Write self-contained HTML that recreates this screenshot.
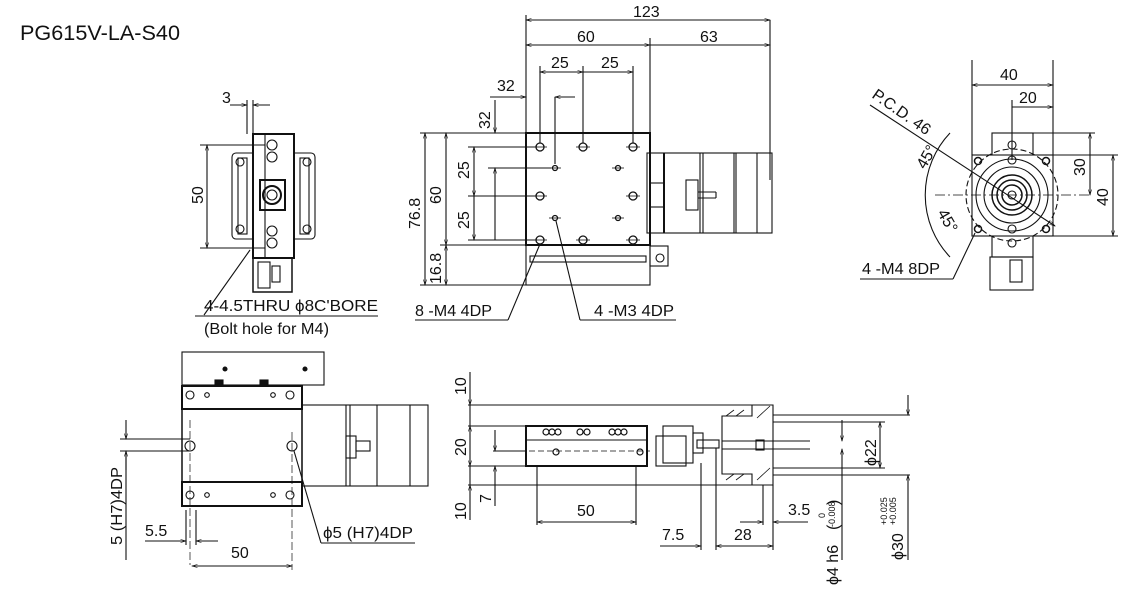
<!DOCTYPE html>
<html><head><meta charset="utf-8"><style>
html,body{margin:0;padding:0;background:#fff;}
svg{display:block;}
text{font-family:"Liberation Sans",sans-serif;fill:#111;}
</style></head><body>
<svg width="1128" height="612" viewBox="0 0 1128 612" xmlns="http://www.w3.org/2000/svg">
<defs>
<marker id="a" viewBox="0 0 10 10" refX="10" refY="5" markerWidth="9" markerHeight="5" orient="auto-start-reverse"><path d="M0,2 L10,5 L0,8" fill="none" stroke="#111" stroke-width="1"/></marker>
</defs>
<g stroke="#111" fill="none" stroke-width="1.1">
<text x="20" y="40" font-size="21" stroke="none" textLength="160" lengthAdjust="spacingAndGlyphs">PG615V-LA-S40</text>

<!-- FRONT VIEW (top-left) -->
<rect x="232" y="153" width="83" height="86" rx="4"/>
<rect x="238" y="158" width="9" height="76"/><rect x="300" y="158" width="9" height="76"/>
<circle cx="240" cy="162" r="4"/><circle cx="307" cy="162" r="4"/><circle cx="240" cy="229" r="4"/><circle cx="307" cy="229" r="4"/>
<rect x="253" y="134" width="41" height="124" fill="#fff" stroke-width="2"/>
<line x1="265" y1="134" x2="265" y2="258"/>
<rect x="260" y="180" width="25" height="30" stroke-width="2"/>
<circle cx="272" cy="195" r="9" stroke-width="2"/><circle cx="272" cy="195" r="5"/>
<circle cx="272" cy="145" r="5"/><circle cx="272" cy="157" r="5"/><circle cx="272" cy="231" r="5"/><circle cx="272" cy="243" r="5"/>
<rect x="253" y="258" width="39" height="34" stroke-width="1.5"/>
<rect x="258" y="262" width="12" height="26"/><rect x="272" y="266" width="8" height="16"/>
<line x1="247" y1="134" x2="247" y2="100"/><line x1="253" y1="134" x2="253" y2="100"/>
<line x1="230" y1="105" x2="247" y2="105" marker-end="url(#a)"/><line x1="270" y1="105" x2="253" y2="105" marker-end="url(#a)"/>
<text x="222" y="103" font-size="16" stroke="none">3</text>
<line x1="200" y1="145" x2="265" y2="145"/><line x1="200" y1="248" x2="265" y2="248"/>
<line x1="207" y1="145" x2="207" y2="248" marker-start="url(#a)" marker-end="url(#a)"/>
<text transform="translate(203,204) rotate(-90)" font-size="16" stroke="none">50</text>
<polyline points="204,315 250,250"/>
<line x1="195" y1="316" x2="378" y2="316"/>
<text x="204" y="311" font-size="16" stroke="none" textLength="174" lengthAdjust="spacingAndGlyphs">4-4.5THRU ϕ8C'BORE</text>
<text x="204" y="334" font-size="16" stroke="none" textLength="125" lengthAdjust="spacingAndGlyphs">(Bolt hole for M4)</text>

<!-- TOP VIEW -->
<rect x="526" y="133" width="124" height="112" stroke-width="2"/>
<rect x="526" y="245" width="124" height="40"/>
<rect x="530" y="256" width="116" height="6"/>
<rect x="650" y="246" width="18" height="20"/>
<circle cx="660" cy="258" r="4"/>
<rect x="647" y="153" width="125" height="80"/>
<line x1="664" y1="153" x2="664" y2="233" stroke-width="2"/>
<line x1="700" y1="153" x2="700" y2="233"/><line x1="703" y1="153" x2="703" y2="233"/>
<line x1="734" y1="153" x2="734" y2="233"/><line x1="736" y1="153" x2="736" y2="233"/>
<line x1="757" y1="153" x2="757" y2="233"/>
<rect x="650" y="183" width="14" height="24"/><rect x="686" y="180" width="12" height="30"/>
<line x1="698" y1="192" x2="716" y2="192"/><line x1="698" y1="198" x2="716" y2="198"/><line x1="716" y1="192" x2="716" y2="198"/>
<line x1="770" y1="20" x2="770" y2="180"/>
<g stroke-width="1.3">
<circle cx="540" cy="147" r="4"/><circle cx="583" cy="147" r="4"/><circle cx="633" cy="147" r="4"/>
<circle cx="540" cy="196" r="4"/><circle cx="633" cy="196" r="4"/>
<circle cx="540" cy="240" r="4"/><circle cx="583" cy="240" r="4"/><circle cx="633" cy="240" r="4"/>
<circle cx="555" cy="168" r="2.5"/><circle cx="618" cy="168" r="2.5"/><circle cx="555" cy="218" r="2.5"/><circle cx="618" cy="218" r="2.5"/>
</g>
<g stroke-width="0.8">
<line x1="533" y1="147" x2="547" y2="147"/><line x1="576" y1="147" x2="590" y2="147"/><line x1="626" y1="147" x2="640" y2="147"/>
<line x1="533" y1="196" x2="547" y2="196"/><line x1="626" y1="196" x2="640" y2="196"/>
<line x1="533" y1="240" x2="547" y2="240"/><line x1="576" y1="240" x2="590" y2="240"/><line x1="626" y1="240" x2="640" y2="240"/>
<line x1="549" y1="168" x2="561" y2="168"/><line x1="612" y1="168" x2="624" y2="168"/><line x1="549" y1="218" x2="561" y2="218"/><line x1="612" y1="218" x2="624" y2="218"/>
</g>
<line x1="526" y1="15" x2="526" y2="133"/><line x1="650" y1="38" x2="650" y2="150"/>
<line x1="540" y1="66" x2="540" y2="143"/><line x1="583" y1="66" x2="583" y2="143"/><line x1="633" y1="66" x2="633" y2="143"/>
<line x1="555" y1="97" x2="555" y2="164"/>
<line x1="526" y1="20" x2="770" y2="20" marker-start="url(#a)" marker-end="url(#a)"/>
<text x="633" y="17" font-size="16" stroke="none">123</text>
<line x1="526" y1="45" x2="650" y2="45" marker-start="url(#a)" marker-end="url(#a)"/>
<line x1="650" y1="45" x2="770" y2="45" marker-end="url(#a)"/>
<text x="577" y="42" font-size="16" stroke="none">60</text><text x="700" y="42" font-size="16" stroke="none">63</text>
<line x1="540" y1="72" x2="583" y2="72" marker-start="url(#a)" marker-end="url(#a)"/>
<line x1="583" y1="72" x2="633" y2="72" marker-end="url(#a)"/>
<text x="551" y="68" font-size="16" stroke="none">25</text><text x="601" y="68" font-size="16" stroke="none">25</text>
<line x1="490" y1="97" x2="526" y2="97" marker-end="url(#a)"/><line x1="575" y1="97" x2="555" y2="97" marker-end="url(#a)"/>
<text x="497" y="91" font-size="16" stroke="none">32</text>
<line x1="420" y1="133" x2="526" y2="133"/><line x1="420" y1="285" x2="526" y2="285"/>
<line x1="440" y1="245" x2="526" y2="245"/>
<line x1="468" y1="147" x2="536" y2="147"/><line x1="468" y1="196" x2="536" y2="196"/><line x1="468" y1="240" x2="536" y2="240"/>
<line x1="488" y1="168" x2="551" y2="168"/>
<line x1="425" y1="133" x2="425" y2="285" marker-start="url(#a)" marker-end="url(#a)"/>
<text transform="translate(420,229) rotate(-90)" font-size="16" stroke="none">76.8</text>
<line x1="446" y1="133" x2="446" y2="245" marker-start="url(#a)" marker-end="url(#a)"/>
<text transform="translate(441,204) rotate(-90)" font-size="16" stroke="none">60</text>
<line x1="446" y1="245" x2="446" y2="285" marker-start="url(#a)" marker-end="url(#a)"/>
<text transform="translate(441,284) rotate(-90)" font-size="16" stroke="none">16.8</text>
<line x1="474" y1="147" x2="474" y2="196" marker-start="url(#a)" marker-end="url(#a)"/>
<line x1="474" y1="196" x2="474" y2="240" marker-end="url(#a)"/>
<text transform="translate(469,179) rotate(-90)" font-size="16" stroke="none">25</text>
<text transform="translate(469,229) rotate(-90)" font-size="16" stroke="none">25</text>
<line x1="495" y1="100" x2="495" y2="133" marker-end="url(#a)"/><line x1="495" y1="240" x2="495" y2="168" marker-end="url(#a)"/>
<text transform="translate(490,129) rotate(-90)" font-size="16" stroke="none">32</text>
<line x1="508" y1="320" x2="540" y2="244"/><line x1="415" y1="320" x2="508" y2="320"/>
<text x="415" y="316" font-size="16" stroke="none" textLength="77" lengthAdjust="spacingAndGlyphs">8 -M4 4DP</text>
<line x1="580" y1="320" x2="556" y2="221"/><line x1="580" y1="320" x2="676" y2="320"/>
<text x="594" y="316" font-size="16" stroke="none" textLength="80" lengthAdjust="spacingAndGlyphs">4 -M3 4DP</text>

<!-- RIGHT VIEW -->
<rect x="992" y="133" width="41" height="124"/>
<rect x="972" y="155" width="81" height="81" fill="#fff"/>
<circle cx="1012" cy="195" r="46" stroke-dasharray="6,3"/>
<circle cx="1012" cy="195" r="36"/><circle cx="1012" cy="195" r="28"/>
<circle cx="1012" cy="195" r="20" stroke-width="1.5"/><circle cx="1012" cy="195" r="15" stroke-width="1.5"/><circle cx="1012" cy="195" r="10" stroke-width="1.5"/><circle cx="1012" cy="195" r="4"/>
<circle cx="978" cy="161" r="3.5" stroke-width="1.5"/><circle cx="1046" cy="161" r="3.5" stroke-width="1.5"/><circle cx="978" cy="229" r="3.5" stroke-width="1.5"/><circle cx="1046" cy="229" r="3.5" stroke-width="1.5"/>
<circle cx="1012" cy="160" r="4"/><circle cx="1012" cy="145" r="4"/><circle cx="1012" cy="229" r="4"/><circle cx="1012" cy="243" r="4"/>
<rect x="990" y="257" width="43" height="33"/><rect x="1010" y="260" width="12" height="22"/>
<line x1="935" y1="195" x2="1090" y2="195" stroke-dasharray="10,3,2,3" stroke-width="0.7"/>
<line x1="972" y1="60" x2="972" y2="155"/><line x1="1053" y1="60" x2="1053" y2="155"/>
<line x1="1012" y1="100" x2="1012" y2="160"/>
<line x1="972" y1="85" x2="1053" y2="85" marker-start="url(#a)" marker-end="url(#a)"/>
<text x="1000" y="80" font-size="16" stroke="none">40</text>
<line x1="1012" y1="107" x2="1053" y2="107" marker-end="url(#a)"/>
<text x="1019" y="103" font-size="16" stroke="none">20</text>
<line x1="1030" y1="133" x2="1095" y2="133"/><line x1="1053" y1="155" x2="1118" y2="155"/><line x1="1053" y1="236" x2="1118" y2="236"/>
<line x1="1090" y1="133" x2="1090" y2="195" marker-start="url(#a)" marker-end="url(#a)"/>
<text transform="translate(1085,176) rotate(-90)" font-size="16" stroke="none">30</text>
<line x1="1113" y1="155" x2="1113" y2="236" marker-start="url(#a)" marker-end="url(#a)"/>
<text transform="translate(1108,206) rotate(-90)" font-size="16" stroke="none">40</text>
<line x1="870" y1="105" x2="1055" y2="226" marker-end="url(#a)"/>
<text transform="translate(871,97) rotate(35)" font-size="16" stroke="none">P.C.D. 46</text>
<path d="M950,133 A90,90 0 0 0 950,257" />
<text transform="translate(925,170) rotate(-60)" font-size="16" stroke="none">45°</text>
<text transform="translate(937,213) rotate(60)" font-size="16" stroke="none">45°</text>
<line x1="953" y1="279" x2="975" y2="233"/><line x1="860" y1="279" x2="953" y2="279"/>
<text x="862" y="274" font-size="16" stroke="none" textLength="78" lengthAdjust="spacingAndGlyphs">4 -M4 8DP</text>

<!-- BOTTOM-LEFT VIEW -->
<rect x="182" y="352" width="142" height="33"/>
<rect x="182" y="386" width="120" height="120" stroke-width="1.5"/>
<rect x="182" y="386" width="120" height="23" stroke-width="2"/>
<rect x="182" y="482" width="120" height="24" stroke-width="2"/>
<rect x="215" y="380" width="8" height="6" fill="#111"/><rect x="260" y="380" width="8" height="6" fill="#111"/>
<circle cx="225" cy="369" r="2" fill="#111"/><circle cx="305" cy="369" r="2" fill="#111"/>
<circle cx="190" cy="395" r="4"/><circle cx="207" cy="395" r="2.3"/><circle cx="273" cy="395" r="2.3"/><circle cx="290" cy="395" r="4"/>
<circle cx="190" cy="495" r="4"/><circle cx="207" cy="495" r="2.3"/><circle cx="273" cy="495" r="2.3"/><circle cx="290" cy="495" r="4"/>
<circle cx="190" cy="446" r="5"/><circle cx="292" cy="446" r="5"/>
<rect x="302" y="405" width="126" height="81"/>
<line x1="346" y1="405" x2="346" y2="486"/><line x1="350" y1="405" x2="350" y2="486"/><line x1="377" y1="405" x2="377" y2="486"/><line x1="410" y1="405" x2="410" y2="486"/>
<rect x="346" y="436" width="10" height="22"/><rect x="356" y="441" width="14" height="10"/>
<line x1="190" y1="420" x2="190" y2="565" stroke-dasharray="8,3" stroke-width="0.7"/>
<line x1="292" y1="432" x2="292" y2="570" stroke-dasharray="8,3" stroke-width="0.7"/>
<line x1="120" y1="439" x2="190" y2="439"/><line x1="120" y1="451" x2="190" y2="451"/>
<line x1="126" y1="420" x2="126" y2="439" marker-end="url(#a)"/><line x1="126" y1="470" x2="126" y2="451" marker-end="url(#a)"/>
<line x1="126" y1="451" x2="126" y2="560"/>
<text transform="translate(122,545) rotate(-90)" font-size="16" stroke="none" textLength="78" lengthAdjust="spacingAndGlyphs">5 (H7)4DP</text>
<line x1="186" y1="510" x2="186" y2="545"/><line x1="196" y1="510" x2="196" y2="545"/>
<line x1="145" y1="541" x2="186" y2="541" marker-end="url(#a)"/><line x1="218" y1="541" x2="196" y2="541" marker-end="url(#a)"/>
<text x="145" y="536" font-size="16" stroke="none">5.5</text>
<line x1="192" y1="566" x2="292" y2="566" marker-start="url(#a)" marker-end="url(#a)"/>
<text x="231" y="558" font-size="16" stroke="none">50</text>
<line x1="321" y1="543" x2="294" y2="451"/><line x1="321" y1="543" x2="415" y2="543"/>
<text x="323" y="538" font-size="16" stroke="none" textLength="90" lengthAdjust="spacingAndGlyphs">ϕ5 (H7)4DP</text>

<!-- SIDE VIEW -->
<rect x="526" y="426" width="121" height="40" stroke-width="2"/>
<line x1="526" y1="440" x2="647" y2="440"/>
<g stroke-width="1.2">
<circle cx="546" cy="432" r="3"/><circle cx="552" cy="432" r="3"/><circle cx="558" cy="432" r="3"/>
<circle cx="580" cy="432" r="3"/><circle cx="587" cy="432" r="3"/>
<circle cx="612" cy="432" r="3"/><circle cx="618" cy="432" r="3"/><circle cx="624" cy="432" r="3"/>
<circle cx="556" cy="452" r="3"/><circle cx="640" cy="452" r="3"/>
</g>
<line x1="520" y1="451" x2="650" y2="451" stroke-dasharray="6,3" stroke-width="0.7"/>
<rect x="663" y="426" width="30" height="37"/><rect x="656" y="436" width="30" height="30"/>
<rect x="693" y="433" width="10" height="20"/>
<rect x="697" y="440" width="22" height="8"/>
<path d="M722,416 H752 V405 H773 V485 H752 V474 H722 Z"/>
<path d="M726,416 L734,410 M736,416 L744,410 M757,418 L770,406 M757,480 L770,468 M726,480 L734,474 M736,480 L744,474" stroke-width="0.8"/>
<rect x="756" y="440" width="8" height="10"/>
<line x1="722" y1="441" x2="810" y2="441"/><line x1="722" y1="449" x2="810" y2="449"/>
<line x1="468" y1="405" x2="760" y2="405"/><line x1="468" y1="485" x2="760" y2="485"/>
<line x1="468" y1="426" x2="526" y2="426"/><line x1="468" y1="466" x2="526" y2="466"/>
<line x1="470" y1="372" x2="470" y2="405" marker-end="url(#a)"/>
<line x1="470" y1="426" x2="470" y2="466" marker-start="url(#a)" marker-end="url(#a)"/>
<line x1="470" y1="520" x2="470" y2="485" marker-end="url(#a)"/>
<line x1="470" y1="405" x2="470" y2="426"/><line x1="470" y1="466" x2="470" y2="485"/>
<text transform="translate(466,395) rotate(-90)" font-size="16" stroke="none">10</text>
<text transform="translate(466,456) rotate(-90)" font-size="16" stroke="none">20</text>
<text transform="translate(466,520) rotate(-90)" font-size="16" stroke="none">10</text>
<line x1="493" y1="451" x2="526" y2="451"/>
<line x1="495" y1="430" x2="495" y2="451" marker-end="url(#a)"/><line x1="495" y1="506" x2="495" y2="466" marker-end="url(#a)"/>
<text transform="translate(491,503) rotate(-90)" font-size="16" stroke="none">7</text>
<line x1="537" y1="466" x2="537" y2="525"/><line x1="636" y1="466" x2="636" y2="525"/>
<line x1="537" y1="522" x2="636" y2="522" marker-start="url(#a)" marker-end="url(#a)"/>
<text x="577" y="516" font-size="16" stroke="none">50</text>
<line x1="701" y1="463" x2="701" y2="550"/><line x1="716" y1="448" x2="716" y2="550"/>
<line x1="773" y1="485" x2="773" y2="550"/><line x1="763" y1="485" x2="763" y2="525"/>
<line x1="660" y1="546" x2="701" y2="546" marker-end="url(#a)"/>
<line x1="716" y1="546" x2="773" y2="546" marker-start="url(#a)" marker-end="url(#a)"/>
<text x="662" y="540" font-size="16" stroke="none">7.5</text><text x="734" y="540" font-size="16" stroke="none">28</text>
<line x1="740" y1="522" x2="763" y2="522" marker-end="url(#a)"/><line x1="808" y1="522" x2="773" y2="522" marker-end="url(#a)"/>
<text x="788" y="515" font-size="16" stroke="none">3.5</text>
<line x1="773" y1="422" x2="885" y2="422"/><line x1="773" y1="468" x2="885" y2="468"/>
<line x1="880" y1="422" x2="880" y2="468" marker-start="url(#a)" marker-end="url(#a)"/>
<text transform="translate(876,466) rotate(-90)" font-size="16" stroke="none">ϕ22</text>
<line x1="773" y1="415" x2="910" y2="415"/><line x1="773" y1="475" x2="910" y2="475"/>
<line x1="908" y1="395" x2="908" y2="415" marker-end="url(#a)"/><line x1="908" y1="560" x2="908" y2="475" marker-end="url(#a)"/>
<text transform="translate(903,560) rotate(-90)" font-size="16" stroke="none">ϕ30</text>
<text transform="translate(887,525) rotate(-90)" font-size="9" stroke="none">+0.025</text>
<text transform="translate(896,525) rotate(-90)" font-size="9" stroke="none">+0.005</text>
<line x1="842" y1="420" x2="842" y2="441" marker-end="url(#a)"/><line x1="842" y1="560" x2="842" y2="449" marker-end="url(#a)"/>
<text transform="translate(838,585) rotate(-90)" font-size="16" stroke="none">ϕ4 h6</text>
<text transform="translate(838,530) rotate(-90)" font-size="16" stroke="none">(</text>
<text transform="translate(838,505) rotate(-90)" font-size="16" stroke="none">)</text>
<text transform="translate(825,518) rotate(-90)" font-size="9" stroke="none">0</text>
<text transform="translate(835,527) rotate(-90)" font-size="9" stroke="none">-0.008</text>
</g>
</svg>
</body></html>
